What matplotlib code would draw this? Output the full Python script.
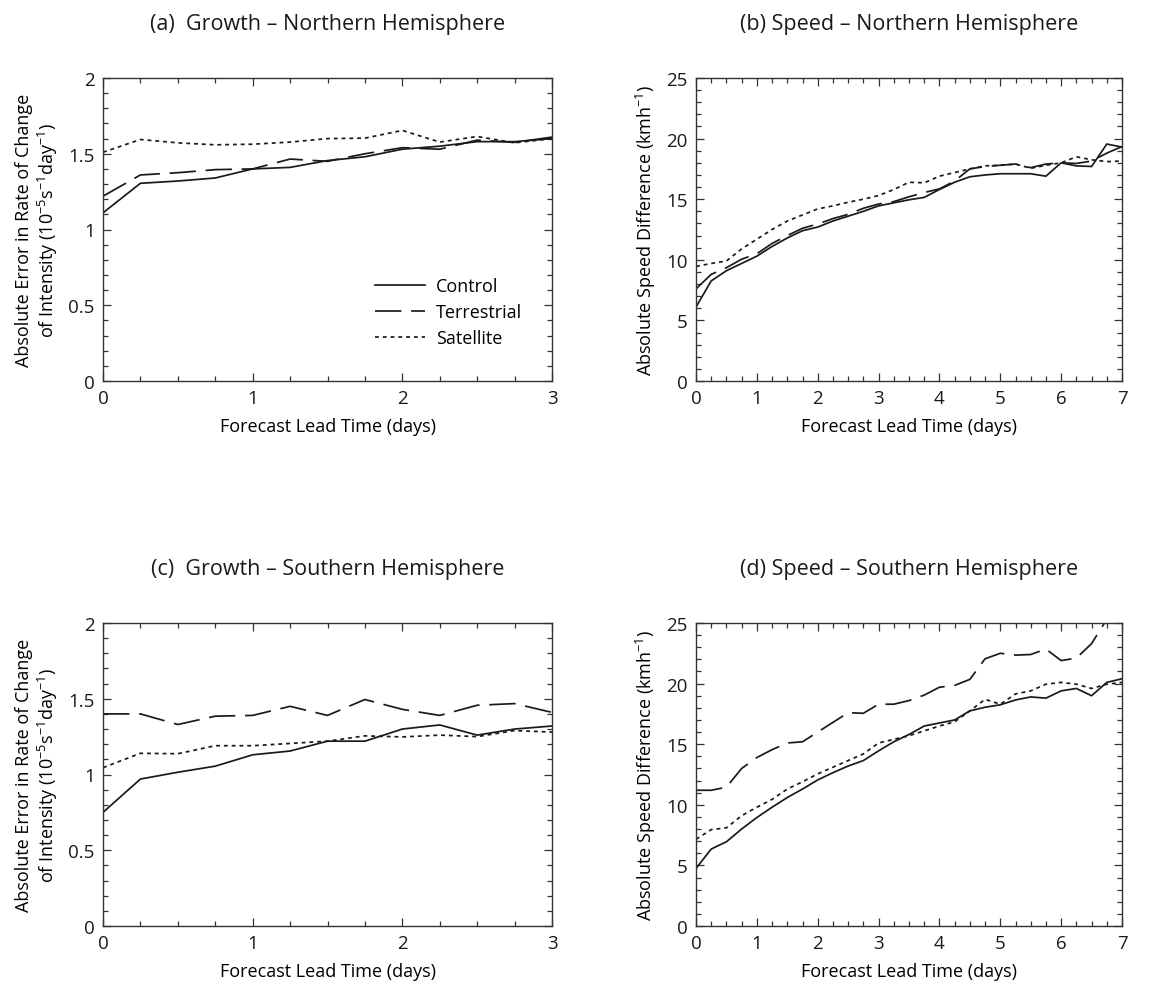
import numpy as np
import matplotlib
matplotlib.use("Agg")
import matplotlib.pyplot as plt
from matplotlib.ticker import MultipleLocator, FuncFormatter

plt.rcParams['font.family'] = ['Open Sans', 'DejaVu Sans']
plt.rcParams['lines.scale_dashes'] = False
plt.rcParams['mathtext.fontset'] = 'custom'
plt.rcParams['mathtext.rm'] = 'Open Sans'
plt.rcParams['mathtext.it'] = 'Open Sans:italic'

# ---------------- data ----------------
lead_growth = np.arange(0, 3.01, 0.25)
lead_speed = np.arange(0, 7.01, 0.25)

growth_nh_control = [1.11, 1.305, 1.32, 1.34, 1.40, 1.41, 1.455, 1.48, 1.53, 1.55, 1.58, 1.58, 1.60]
growth_nh_terrestrial = [1.22, 1.36, 1.375, 1.395, 1.40, 1.465, 1.45, 1.50, 1.54, 1.53, 1.59, 1.575, 1.61]
growth_nh_satellite = [1.51, 1.594, 1.572, 1.559, 1.563, 1.577, 1.60, 1.603, 1.654, 1.577, 1.614, 1.572, 1.60]

speed_nh_control = [6.1, 8.26, 9.1, 9.7, 10.3, 11.1, 11.8, 12.4, 12.7, 13.2, 13.6, 14.0, 14.45,
                    14.7, 14.95, 15.15, 15.8, 16.4, 16.85, 17.0, 17.1, 17.1, 17.1, 16.9, 18.0,
                    17.75, 17.7, 19.55, 19.3]
speed_nh_terrestrial = [7.6, 8.8, 9.35, 10.05, 10.5, 11.35, 12.0, 12.6, 12.95, 13.4, 13.75, 14.25, 14.6,
                        14.8, 15.2, 15.55, 15.85, 16.5, 17.5, 17.7, 17.8, 17.9, 17.6, 17.9, 18.0,
                        17.95, 18.15, 18.8, 19.35]
speed_nh_satellite = [9.45, 9.7, 9.9, 10.9, 11.7, 12.5, 13.2, 13.7, 14.2, 14.45, 14.75, 15.0, 15.3,
                      15.8, 16.4, 16.35, 16.9, 17.2, 17.5, 17.75, 17.8, 17.9, 17.55, 17.8, 18.0,
                      18.5, 18.25, 18.1, 18.15]

growth_sh_control = [0.75, 0.97, 1.015, 1.055, 1.13, 1.155, 1.22, 1.22, 1.30, 1.327, 1.26, 1.30, 1.32]
growth_sh_terrestrial = [1.40, 1.40, 1.33, 1.385, 1.39, 1.45, 1.39, 1.495, 1.43, 1.39, 1.457, 1.468, 1.41]
growth_sh_satellite = [1.045, 1.14, 1.137, 1.19, 1.19, 1.205, 1.22, 1.255, 1.248, 1.26, 1.25, 1.29, 1.28]

speed_sh_control = [4.75, 6.35, 6.95, 8.0, 8.95, 9.8, 10.6, 11.3, 12.05, 12.65, 13.2, 13.65, 14.45,
                    15.2, 15.8, 16.5, 16.75, 17.0, 17.75, 18.05, 18.25, 18.65, 18.9, 18.8, 19.4,
                    19.6, 19.0, 20.1, 20.4]
speed_sh_terrestrial = [11.2, 11.2, 11.45, 13.0, 13.9, 14.55, 15.1, 15.2, 16.0, 16.8, 17.6, 17.55, 18.3,
                        18.3, 18.6, 19.05, 19.7, 19.85, 20.35, 22.05, 22.5, 22.35, 22.4, 22.85, 21.9,
                        22.1, 23.3, 25.3, 27.0]
speed_sh_satellite = [7.15, 7.95, 8.1, 9.1, 9.8, 10.45, 11.3, 11.9, 12.55, 13.1, 13.65, 14.2, 15.1,
                      15.4, 15.7, 16.1, 16.5, 16.85, 17.75, 18.7, 18.3, 19.15, 19.4, 19.95, 20.1,
                      19.95, 19.6, 19.95, 20.1]

series_names = ["Control", "Terrestrial", "Satellite"]
titles = ["(a)  Growth \u2013 Northern Hemisphere", "(b) Speed \u2013 Northern Hemisphere",
          "(c)  Growth \u2013 Southern Hemisphere", "(d) Speed \u2013 Southern Hemisphere"]

# ---------------- figure ----------------
W, H = 1160, 987
fig = plt.figure(figsize=(W / 100, H / 100), dpi=100)

def rect(l, r, t, b):
    return [l / W, 1 - b / H, (r - l) / W, (b - t) / H]

styles = [dict(linestyle='-'),
          dict(linestyle=(0, (19, 7))),
          dict(linestyle=(0, (2.8, 2.8)))]
lw = 1.25
col = '#1a1a1a'

growth_label = "Absolute Error in Rate of Change\nof Intensity (10$^{-5}$s$^{-1}$day$^{-1}$)"
speed_label = "Absolute Speed Difference (kmh$^{-1}$)"

fmt = FuncFormatter(lambda v, p: f"{v:g}")

panels = [
    (rect(103, 552, 79, 382), lead_growth, [growth_nh_control, growth_nh_terrestrial, growth_nh_satellite],
     3, 2, 1, 0.25, 0.5, 0.1, growth_label, True),
    (rect(696, 1122, 79, 382), lead_speed, [speed_nh_control, speed_nh_terrestrial, speed_nh_satellite],
     7, 25, 1, 0.25, 5, 1, speed_label, False),
    (rect(103, 552, 624, 927), lead_growth, [growth_sh_control, growth_sh_terrestrial, growth_sh_satellite],
     3, 2, 1, 0.25, 0.5, 0.1, growth_label, False),
    (rect(696, 1122, 624, 927), lead_speed, [speed_sh_control, speed_sh_terrestrial, speed_sh_satellite],
     7, 25, 1, 0.25, 5, 1, speed_label, False),
]

for i, (r, x, ys, xmax, ymax, xmaj, xmin_, ymaj, ymin_, ylab, leg) in enumerate(panels):
    ax = fig.add_axes(r)
    for y, name, st in zip(ys, series_names, styles):
        ax.plot(x, y, color=col, lw=lw, label=name, **st)
    ax.set_xlim(0, xmax)
    ax.set_ylim(0, ymax)
    ax.xaxis.set_major_locator(MultipleLocator(xmaj))
    ax.xaxis.set_minor_locator(MultipleLocator(xmin_))
    ax.yaxis.set_major_locator(MultipleLocator(ymaj))
    ax.yaxis.set_minor_locator(MultipleLocator(ymin_))
    ax.xaxis.set_major_formatter(fmt)
    ax.yaxis.set_major_formatter(fmt)
    ax.tick_params(which='both', direction='in', top=True, right=True, colors='#333333',
                   labelcolor='#1a1a1a', labelsize=13.5, width=0.9)
    ax.tick_params(which='major', length=6, pad=6)
    ax.tick_params(which='minor', length=3.5)
    for s in ax.spines.values():
        s.set_linewidth(1.0)
        s.set_color('#333333')
    ax.set_xlabel("Forecast Lead Time (days)", fontsize=13, labelpad=7)
    ax.set_ylabel(ylab, fontsize=13, labelpad=6, linespacing=1.15)
    ax.set_title(titles[i], fontsize=15.5, pad=35, color='#1a1a1a')
    if leg:
        ax.legend(loc='lower right', bbox_to_anchor=(0.97, 0.058), frameon=False, fontsize=13,
                  handlelength=2.8, handletextpad=0.6, labelspacing=0.45)

fig.savefig("out.png", dpi=100)
